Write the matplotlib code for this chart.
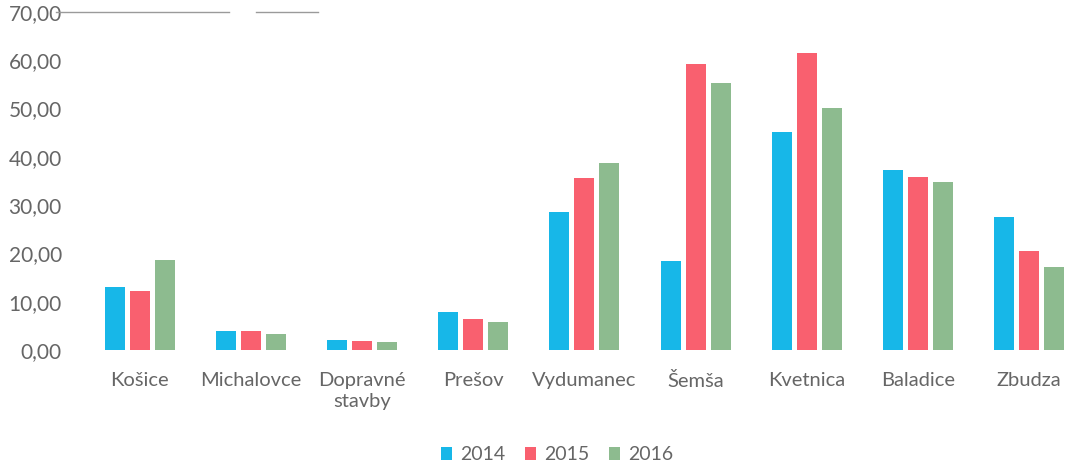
import numpy as np
import matplotlib
matplotlib.use("Agg")
import matplotlib.pyplot as plt

plt.rcParams['font.family'] = ['Lato', 'DejaVu Sans']

# data
categories = ["Košice", "Michalovce", "Dopravné\nstavby", "Prešov", "Vydumanec",
              "Šemša", "Kvetnica", "Baladice", "Zbudza"]
years = ["2014", "2015", "2016"]
v2014 = [13.0, 3.9, 2.1, 7.9, 28.6, 18.4, 45.1, 37.3, 27.5]
v2015 = [12.2, 3.9, 1.9, 6.4, 35.6, 59.2, 61.5, 35.8, 20.5]
v2016 = [18.6, 3.3, 1.6, 5.8, 38.7, 55.3, 50.1, 34.8, 17.2]
yticks = [0, 10, 20, 30, 40, 50, 60, 70]

colors = ["#17b7e8", "#f9606f", "#8dbb8f"]
txt = "#666666"

fig = plt.figure(figsize=(10.67, 4.70), dpi=100)
ax = fig.add_axes([84/1067, 1 - 350/470, 1 - 84/1067, 338/470])

x = np.arange(len(categories))
w = 0.18
step = 0.225
for i, (vals, yr) in enumerate(zip([v2014, v2015, v2016], years)):
    ax.bar(x + (i - 1) * step, vals, width=w, color=colors[i], label=yr)

ax.set_ylim(0, 70)
ax.set_xlim(-0.5, 8.34)
ax.set_yticks(yticks)
ax.set_yticklabels([("%.2f" % t).replace(".", ",") for t in yticks])
ax.set_xticks(x)
ax.set_xticklabels(categories, linespacing=1.3)
ax.tick_params(axis='y', length=0, labelsize=15, labelcolor=txt, pad=16)
ax.tick_params(axis='x', length=0, labelsize=14.5, labelcolor=txt, pad=16)
for s in ax.spines.values():
    s.set_visible(False)

# faint line near top (as in the scan)
ax.plot([-0.75, 0.8], [70, 70], color="#9a9a9a", lw=1, clip_on=False)
ax.plot([1.05, 1.6], [70, 70], color="#9a9a9a", lw=1, clip_on=False)

leg = fig.legend(loc='center', bbox_to_anchor=(557/1067, 1 - 455/470), ncol=3,
                 frameon=False, fontsize=14, handlelength=0.6, handleheight=0.6,
                 handletextpad=0.4, columnspacing=1.0)
for t in leg.get_texts():
    t.set_color(txt)

fig.savefig("out.png", dpi=100, facecolor="white")
